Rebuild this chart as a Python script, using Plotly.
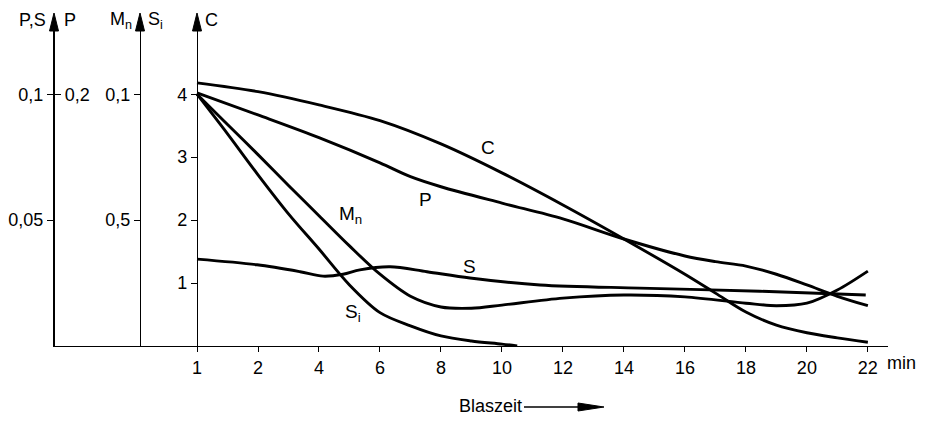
import plotly.graph_objects as go

# ---------------- data ----------------
# x values are in the chart's time units; the first tick (labelled "1") sits at 0
c_x = [0, 2, 4, 6, 8, 10, 12, 14, 16, 17, 18, 19, 20, 21, 22]
c_y = [4.18, 4.04, 3.83, 3.58, 3.21, 2.75, 2.24, 1.70, 1.14, 0.84, 0.54, 0.33, 0.21, 0.13, 0.06]

p_x = [0, 2, 4, 6, 7, 8, 10, 12, 14, 16, 17, 18, 19, 20, 21, 22]
p_y = [4.02, 3.67, 3.31, 2.91, 2.69, 2.53, 2.27, 2.02, 1.70, 1.43, 1.34, 1.27, 1.14, 0.97, 0.79, 0.64]

mn_x = [0, 1, 2, 3, 4, 5, 6, 7, 8, 9, 10, 12, 14, 16, 18, 19, 20, 21, 22]
mn_y = [4.0, 3.52, 3.04, 2.55, 2.07, 1.59, 1.14, 0.79, 0.62, 0.60, 0.65, 0.76, 0.81, 0.78, 0.68,
        0.64, 0.68, 0.89, 1.19]

si_x = [0, 1, 2, 3, 4, 5, 6, 7, 8, 9, 10, 10.5]
si_y = [4.0, 3.37, 2.72, 2.10, 1.54, 0.97, 0.53, 0.32, 0.16, 0.08, 0.03, 0.0]

s_x = [0, 1.97, 3.38, 4.13, 4.79, 5.34, 6.33, 7.54, 8.95, 11.25, 14.52, 18.46, 21.93]
s_y = [1.38, 1.29, 1.18, 1.11, 1.14, 1.21, 1.26, 1.18, 1.08, 0.97, 0.92, 0.87, 0.81]

x_tickvals = [0, 2, 4, 6, 8, 10, 12, 14, 16, 18, 20, 22]
x_ticktext = ["1", "2", "4", "6", "8", "10", "12", "14", "16", "18", "20", "22"]

c_tickvals = [1, 2, 3, 4]
c_ticktext = ["1", "2", "3", "4"]
mnsi_tickvals = [2, 4]
mnsi_ticktext = ["0,5", "0,1"]
ps_tickvals = [2, 4]
ps_ticktext = ["0,05", "0,1"]
p_right_tickvals = [4]
p_right_ticktext = ["0,2"]

curve_labels = ["C", "P", "M<sub>n</sub>", "S<sub>i</sub>", "S"]
curve_label_x = [9.54, 7.48, 5.02, 5.11, 8.95]
curve_label_y = [3.16, 2.32, 2.08, 0.52, 1.26]

# ---------------- layout geometry ----------------
W, H = 933, 421
ML, MR, MT, MB = 54, 45, 30, 75
PW = W - ML - MR
PH = H - MT - MB
FONT = "Liberation Sans, Arial, sans-serif"


def px_x(px):
    return (px - ML) / PW


def px_y(py):
    return (H - MB - py) / PH


fig = go.Figure()
for xs, ys in [(c_x, c_y), (p_x, p_y), (mn_x, mn_y), (si_x, si_y), (s_x, s_y)]:
    fig.add_trace(go.Scatter(x=xs, y=ys, mode="lines",
                             line=dict(color="black", width=2.9, shape="spline", smoothing=0.9),
                             showlegend=False, hoverinfo="skip"))

axis_common = dict(showgrid=False, zeroline=False, showline=True, linecolor="black",
                   linewidth=1.3, ticks="outside", ticklen=6, tickwidth=1.2,
                   tickcolor="black", range=[0, 5.02], automargin=False,
                   tickfont=dict(family=FONT, size=18, color="black"))

fig.update_layout(
    width=W, height=H,
    margin=dict(l=ML, r=MR, t=MT, b=MB, autoexpand=False),
    paper_bgcolor="white", plot_bgcolor="white",
    font=dict(family=FONT, size=18, color="black"),
    xaxis=dict(range=[-4.69, 22.66], showgrid=False, zeroline=False, showline=True,
               linecolor="black", linewidth=1.3, ticks="outside", ticklen=5,
               tickwidth=1.2, tickcolor="black", tickvals=x_tickvals,
               ticktext=x_ticktext, automargin=False,
               tickfont=dict(family=FONT, size=18, color="black")),
    yaxis=dict(tickvals=ps_tickvals, ticktext=ps_ticktext, side="left", **axis_common),
    yaxis2=dict(tickvals=c_tickvals, ticktext=c_ticktext, overlaying="y",
                anchor="free", position=px_x(197), side="left", **axis_common),
    yaxis3=dict(tickvals=mnsi_tickvals, ticktext=mnsi_ticktext, overlaying="y",
                anchor="free", position=px_x(140), side="left", **axis_common),
    yaxis4=dict(tickvals=p_right_tickvals, ticktext=p_right_ticktext, overlaying="y",
                anchor="free", position=0, side="right", **axis_common),
)

# invisible traces so the overlay axes render
for ax in ["y2", "y3", "y4"]:
    fig.add_trace(go.Scatter(x=[None], y=[None], yaxis=ax, showlegend=False, hoverinfo="skip"))

annotations = []
for t, x, y in zip(curve_labels, curve_label_x, curve_label_y):
    annotations.append(dict(x=x, y=y, xref="x", yref="y", text=t, showarrow=False,
                            font=dict(family=FONT, size=19, color="black")))

top_y = px_y(20)
for t, px, anchor in [("P,S", 48, "right"), ("P", 62, "left"),
                      ("M<sub>n</sub>", 134, "right"), ("S<sub>i</sub>", 146, "left"),
                      ("C", 203, "left")]:
    annotations.append(dict(x=px_x(px), y=top_y, xref="paper", yref="paper", text=t,
                            showarrow=False, xanchor=anchor, yanchor="middle",
                            font=dict(family=FONT, size=18, color="black")))

annotations.append(dict(x=px_x(885), y=px_y(363), xref="paper", yref="paper", text="min",
                        showarrow=False, xanchor="left", yanchor="middle",
                        font=dict(family=FONT, size=18, color="black")))
annotations.append(dict(x=px_x(457), y=px_y(406), xref="paper", yref="paper", text="Blaszeit",
                        showarrow=False, xanchor="left", yanchor="middle",
                        font=dict(family=FONT, size=18, color="black")))
fig.update_layout(annotations=annotations)

shapes = []
for axpx in [54, 140, 197]:
    shapes.append(dict(type="path", xref="paper", yref="paper",
                       path="M {a},{b} L {c},{b} L {d},{e} Z".format(
                           a=px_x(axpx - 4.5), b=px_y(31), c=px_x(axpx + 4.5),
                           d=px_x(axpx), e=px_y(13)),
                       fillcolor="black", line=dict(color="black", width=1)))
# Blaszeit arrow
shapes.append(dict(type="line", xref="paper", yref="paper",
                   x0=px_x(524), x1=px_x(582), y0=px_y(407), y1=px_y(407),
                   line=dict(color="black", width=1.5)))
shapes.append(dict(type="path", xref="paper", yref="paper",
                   path="M {a},{b} L {a},{c} L {d},{e} Z".format(
                       a=px_x(578), b=px_y(403), c=px_y(411), d=px_x(604), e=px_y(407)),
                   fillcolor="black", line=dict(color="black", width=1)))
fig.update_layout(shapes=shapes)

# remove the browser's default 8px page margin so the figure sits at the window origin
fig.write_html("out.html", config={"displayModeBar": False},
               post_script="document.body.style.margin='0';document.body.style.overflow='hidden';")
